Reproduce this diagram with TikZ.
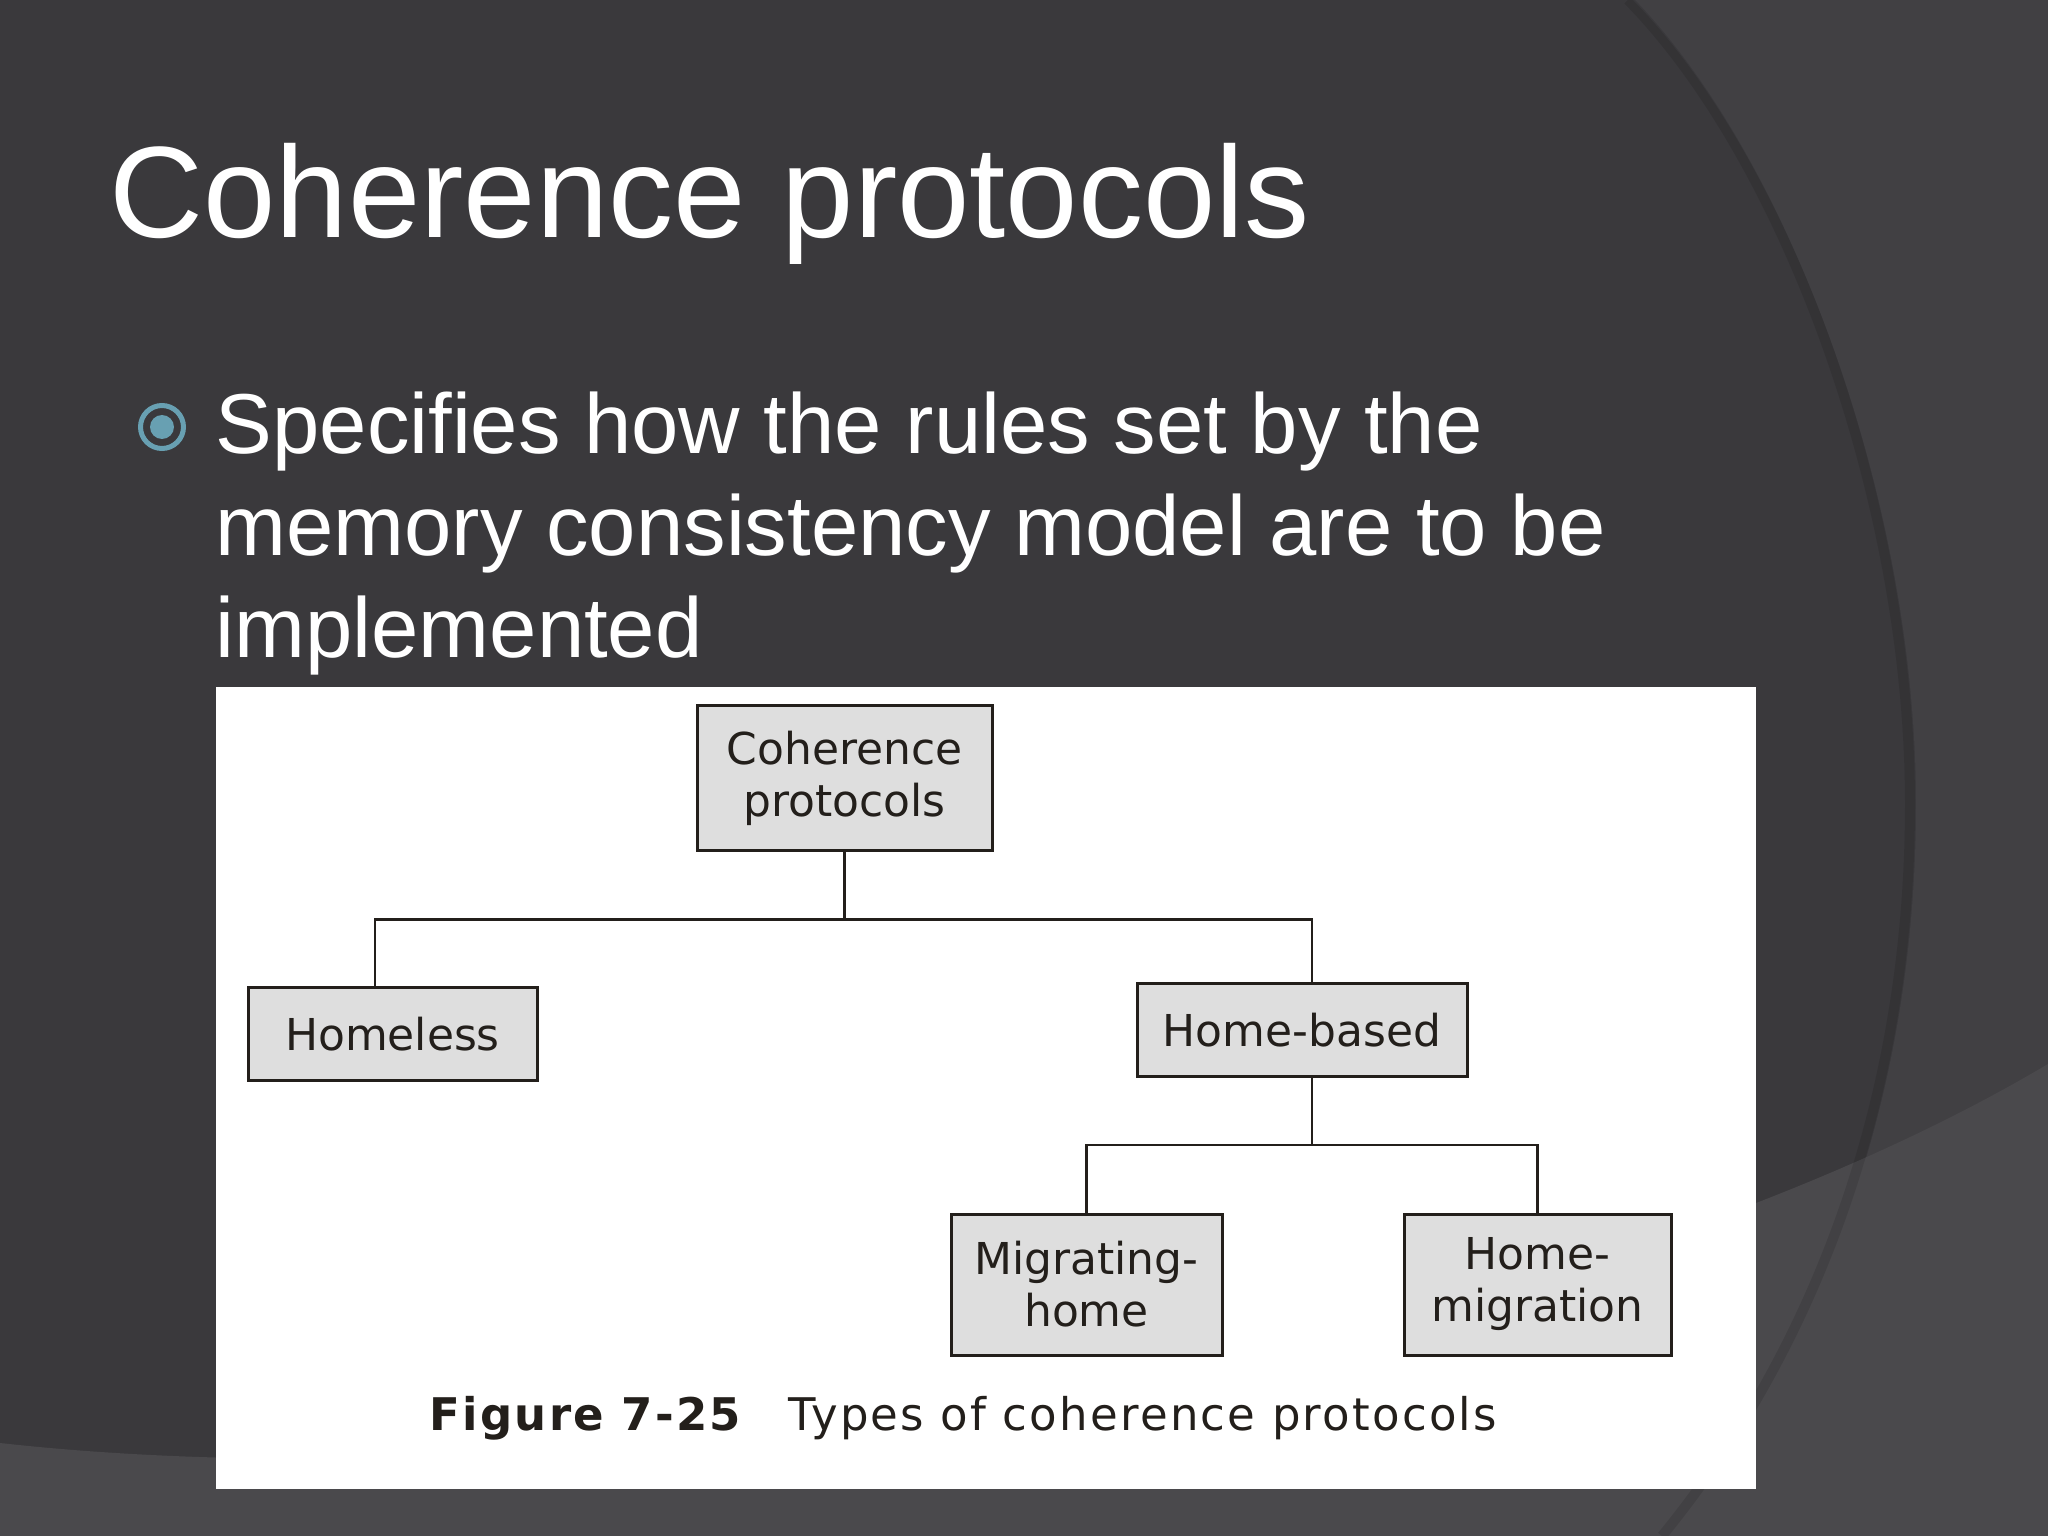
\documentclass[tikz,border=0pt]{standalone}
\usepackage{fontspec}
\setmainfont{Liberation Sans}
\newfontfamily\figfont{DejaVu Sans}
\newfontfamily\capfont[LetterSpace=5]{DejaVu Sans}
\usepackage{xcolor}
\usetikzlibrary{positioning}

\definecolor{slidebg}{RGB}{58,57,60}
\definecolor{slideside}{RGB}{65,64,67}
\definecolor{slidelow}{RGB}{74,73,76}
\definecolor{bulletblue}{RGB}{104,160,178}
\definecolor{boxfill}{RGB}{222,222,222}
\definecolor{boxline}{RGB}{35,31,27}

\begin{document}
\begin{tikzpicture}[node distance=2cm, on grid,
    block/.style={draw=boxline, line width=0.03cm, fill=boxfill, inner sep=0pt,
      align=center, text=boxline, font=\figfont\fontsize{12.5}{14.8}\selectfont},
    link/.style={draw=boxline, line width=0.025cm}]
  % slide background
  \useasboundingbox (0,0) rectangle (20.48,-15.36);
  \fill[slidebg] (0,0) rectangle (20.48,-15.36);
  \fill[slideside] (16.33,0) .. controls (17.9,-1.6) and (19.16,-5.0) .. (19.16,-8.04)
    .. controls (19.16,-11) and (18.2,-13.5) .. (16.68,-15.36)
    -- (20.48,-15.36) -- (20.48,0) -- cycle;
  \fill[slidelow] (0,-14.43) .. controls (6,-15.1) and (15.5,-13.6) .. (20.48,-10.64)
    -- (20.48,-15.36) -- (0,-15.36) -- cycle;
  \draw[black, opacity=0.1, line width=0.1cm] (16.28,0) .. controls (17.85,-1.6) and (19.1,-5.0) .. (19.1,-8.04)
    .. controls (19.1,-11) and (18.14,-13.5) .. (16.62,-15.36);

  % title and bullet
  \node[anchor=base west, inner sep=0pt, text=white, font=\fontsize{37}{44}\selectfont]
    (title) at (1.09,-2.38) {Coherence protocols};
  \draw[bulletblue, line width=0.05cm] (1.62,-4.27) circle (0.215);
  \fill[bulletblue] (1.62,-4.27) circle (0.12);
  \node[anchor=base west, inner sep=0pt, align=left, text=white, font=\fontsize{24.2}{29}\selectfont]
    (point) at (2.15,-6.57) {Specifies how the rules set by the\\memory consistency model are to be\\implemented};

  % figure panel
  \fill[white] (2.16,-6.87) rectangle (17.56,-14.89);

  \node[block, minimum width=2.95cm, minimum height=1.44cm] (coh) at (8.445,-7.78) {Coherence\\protocols};
  \node[block, minimum width=2.89cm, minimum height=0.93cm, below left=2.56cm and 4.52cm of coh] (homeless) {Homeless};
  \node[block, minimum width=3.30cm, minimum height=0.93cm, below right=2.52cm and 4.575cm of coh] (homebased) {Home-based};
  \node[block, minimum width=2.71cm, minimum height=1.41cm, below left=2.545cm and 2.155cm of homebased] (migrating) {Migrating-\\home};
  \node[block, minimum width=2.67cm, minimum height=1.41cm, right=4.51cm of migrating] (homemig) {Home-\\migration};

  \path[link] (coh.south) -- ++(0,-0.68) coordinate (fork);
  \path[link] ([xshift=-0.175cm]homeless.north) |- (fork) -| ([xshift=0.1cm]homebased.north);
  \path[link] ([xshift=0.1cm]homebased.south) -- ++(0,-0.67) coordinate (fork2);
  \path[link] (migrating.north) |- (fork2) -| (homemig.north);

  \node[anchor=base west, inner sep=0pt, text=boxline, font=\capfont\fontsize{12.8}{15}\selectfont]
    (caption) at (4.29,-14.30) {\textbf{Figure 7-25}\hspace{0.45cm}Types of coherence protocols};
\end{tikzpicture}
\end{document}
